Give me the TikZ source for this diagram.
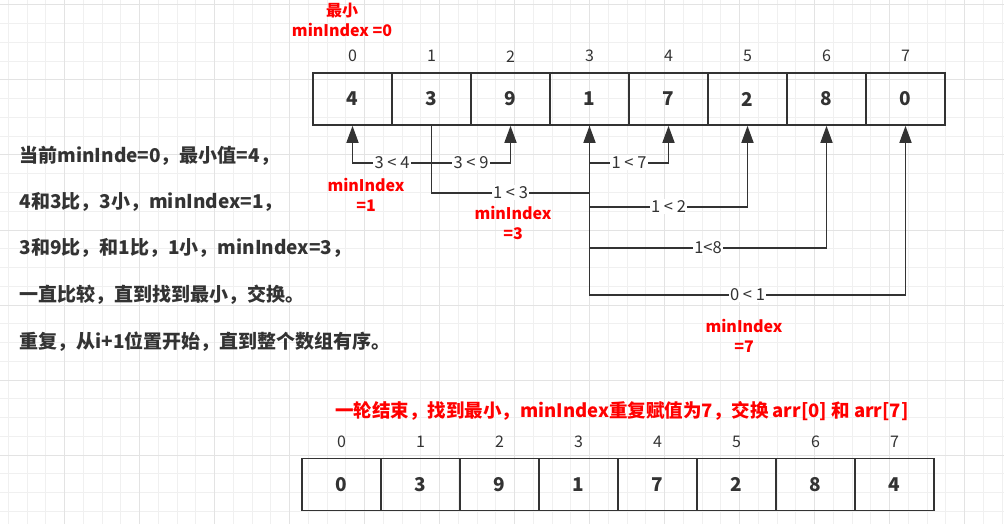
\documentclass[tikz,border=0pt]{standalone}
\usepackage{fontspec}
\setmainfont{Noto Sans CJK SC}
\usetikzlibrary{positioning,arrows.meta}
\definecolor{inkgray}{HTML}{333333}
\definecolor{hintred}{HTML}{FF0000}
\definecolor{gridminor}{HTML}{F0F0F0}
\definecolor{gridmajor}{HTML}{E3E3E3}

\begin{document}
\begin{tikzpicture}[x=1pt,y=-1pt,
    cell/.style={draw=inkgray,line width=1.6pt,minimum width=79pt,minimum height=52pt,inner sep=0pt,
      font=\fontsize{19}{21}\selectfont\bfseries,text=inkgray},
    idx/.style={font=\fontsize{16}{18}\selectfont,text=inkgray},
    link/.style={draw=inkgray,line width=1.6pt,-{Triangle[length=17pt,width=12pt]}},
    cmp/.style={fill=white,inner sep=1.5pt,font=\fontsize{16.5}{18}\selectfont,text=inkgray},
    note/.style={text=hintred,font=\fontsize{16}{20}\selectfont\bfseries,align=center},
    remark/.style={anchor=west,text=inkgray,font=\fontsize{19}{21}\selectfont\bfseries}]
  \useasboundingbox (0,0) rectangle (1004,524);
  % canvas grid
  \foreach \gx in {8.3,27.05,...,1004} \draw[gridminor,line width=1pt] (\gx,0) -- (\gx,524);
  \foreach \gy in {5,23.75,...,524} \draw[gridminor,line width=1pt] (0,\gy) -- (1004,\gy);
  \foreach \gx in {64.55,139.55,...,1004} \draw[gridmajor,line width=1pt] (\gx,0) -- (\gx,524);
  \foreach \gy in {5,80,...,524} \draw[gridmajor,line width=1pt] (0,\gy) -- (1004,\gy);

  % array before the pass
  \foreach \v [count=\i from 0] in {4,3,9,1,7,2,8,0} {
    \node[cell] (a\i) at (352.5+79*\i,99) {\v};
    \node[idx] (ta\i) at ([yshift=16pt]a\i.north) {\i};
  }
  \node[note] (start) at (342,20) {最小\\minIndex =0};

  % comparisons
  \draw[link] (a1.south) -- ++(0,37) -| (a0.south) node[cmp,pos=0.25] {3 < 4};
  \draw[link] (a1.south) -- ++(0,37) -| (a2.south) node[cmp,pos=0.25] {3 < 9};
  \draw[link] (a1.south) -- ++(0,67) -| (a3.south) node[cmp,pos=0.25] {1 < 3};
  \draw[link] (a3.south) -- ++(0,37) -| (a4.south) node[cmp,pos=0.25] {1 < 7};
  \draw[link] (a3.south) -- ++(0,81) -| (a5.south) node[cmp,pos=0.25] {1 < 2};
  \draw[link] (a3.south) -- ++(0,122) -| (a6.south) node[cmp,pos=0.25] {1<8};
  \draw[link] (a3.south) -- ++(0,169) -| (a7.south) node[cmp,pos=0.25] {0 < 1};
  \node[note] (min1) at (366,195) {minIndex\\=1};
  \node[note] (min3) at (513,223) {minIndex\\=3};
  \node[note] (min7) at (744,336) {minIndex\\=7};

  % explanation
  \node[remark] (r1) at (16,156) {当前minInde=0，最小值=4，};
  \node[remark] (r2) at (16,202) {4和3比，3小，minIndex=1，};
  \node[remark] (r3) at (16,248) {3和9比，和1比，1小，minIndex=3，};
  \node[remark] (r4) at (16,295) {一直比较，直到找到最小，交换。};
  \node[remark] (r5) at (16,342) {重复，从i+1位置开始，直到整个数组有序。};

  % array after the swap
  \node[note,font=\fontsize{18.5}{20}\selectfont\bfseries] (done) at (622,411) {一轮结束，找到最小，minIndex重复赋值为7，交换 arr[0] 和 arr[7]};
  \foreach \v [count=\i from 0] in {0,3,9,1,7,2,8,4} {
    \node[cell] (b\i) at (341.5+79*\i,484.5) {\v};
    \node[idx] (tb\i) at ([yshift=16pt]b\i.north) {\i};
  }
\end{tikzpicture}
\end{document}
